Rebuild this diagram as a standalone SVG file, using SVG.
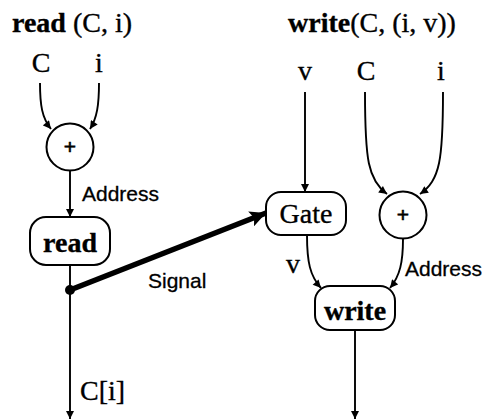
<svg xmlns="http://www.w3.org/2000/svg" width="485" height="419" viewBox="0 0 485 419">
  <style>
    .serif { font-family: "Liberation Serif", "Times New Roman", serif; font-size: 28px; fill: #000; stroke: #000; stroke-width: 0.35; }
    .bold { font-weight: bold; }
    .sans { font-family: "Liberation Sans", Arial, sans-serif; font-size: 21px; fill: #000; stroke: #000; stroke-width: 0.3; }
    .plus { font-family: "Liberation Sans", Arial, sans-serif; font-size: 21px; fill: #000; stroke: #000; stroke-width: 0.6; }
    .node { fill: #fff; stroke: #000; stroke-width: 2; }
    .edge { fill: none; stroke: #000; stroke-width: 1.9; }
    .thick { fill: none; stroke: #000; stroke-width: 5.5; }
  </style>
  <defs>
    <marker id="arrow" viewBox="0 0 10 10" refX="10" refY="5" markerWidth="9" markerHeight="8" markerUnits="userSpaceOnUse" orient="auto">
      <path d="M0,0 L10,5 L0,10 Z" fill="#000"/>
    </marker>
    <marker id="bigArrow" viewBox="0 0 10 10" refX="10" refY="5" markerWidth="22" markerHeight="16" markerUnits="userSpaceOnUse" orient="auto">
      <path d="M0,0 L10,5 L0,10 L2,5 Z" fill="#000"/>
    </marker>
  </defs>

  <!-- headings -->
  <text class="serif" x="12" y="32"><tspan class="bold">read</tspan> (C, i)</text>
  <text class="serif" x="288" y="32"><tspan class="bold">write</tspan>(C, (i, v))</text>

  <!-- inputs -->
  <g id="read-inputs">
    <text class="serif" x="41" y="72" text-anchor="middle">C</text>
    <text class="serif" x="99" y="72" text-anchor="middle">i</text>
  </g>
  <g id="write-inputs">
    <text class="serif" x="305" y="80" text-anchor="middle">v</text>
    <text class="serif" x="366" y="80" text-anchor="middle">C</text>
    <text class="serif" x="441" y="80" text-anchor="middle">i</text>
  </g>

  <!-- connectors -->
  <g id="connectors">
    <path class="edge" d="M40,83 C40,105 42,118 51,129" marker-end="url(#arrow)"/>
    <path class="edge" d="M99,83 C99,105 97,118 90,129" marker-end="url(#arrow)"/>
    <path class="edge" d="M70,171 L70,217" marker-end="url(#arrow)"/>
    <path class="edge" d="M70,265 L70,419" marker-end="url(#arrow)"/>
    <path class="thick" d="M70,290 L266,213" marker-end="url(#bigArrow)"/>

    <path class="edge" d="M305,92 L305,192" marker-end="url(#arrow)"/>
    <path class="edge" d="M365,92 C365,160 368,180 387,194" marker-end="url(#arrow)"/>
    <path class="edge" d="M443,92 C443,160 440,180 420,194" marker-end="url(#arrow)"/>
    <path class="edge" d="M307,235 C307,262 310,276 321,288" marker-end="url(#arrow)"/>
    <path class="edge" d="M403,239 C403,262 400,276 390,288" marker-end="url(#arrow)"/>
    <path class="edge" d="M355,330 L355,419" marker-end="url(#arrow)"/>

    <circle cx="70" cy="290" r="5" fill="#000"/>

    <text class="sans" x="82" y="201">Address</text>
    <text class="sans" x="148" y="288">Signal</text>
    <text class="serif" x="80" y="400">C[i]</text>
    <text class="serif" x="293" y="273" text-anchor="middle">v</text>
    <text class="sans" x="405" y="276">Address</text>
  </g>

  <!-- nodes -->
  <g id="read-add">
    <circle class="node" cx="70" cy="147" r="23.5"/>
    <text class="plus" x="70" y="154" text-anchor="middle">+</text>
  </g>
  <g id="read-op">
    <rect class="node" x="30" y="217" width="80" height="48" rx="16"/>
    <text class="serif bold" x="70" y="252" text-anchor="middle">read</text>
  </g>
  <g id="gate">
    <rect class="node" x="266" y="192" width="80" height="43" rx="15"/>
    <text class="serif" x="306" y="223" text-anchor="middle">Gate</text>
  </g>
  <g id="write-add">
    <circle class="node" cx="403" cy="215" r="23.5"/>
    <text class="plus" x="403" y="222" text-anchor="middle">+</text>
  </g>
  <g id="write-op">
    <rect class="node" x="315" y="286" width="80" height="44" rx="15"/>
    <text class="serif bold" x="355" y="320" text-anchor="middle">write</text>
  </g>
</svg>
